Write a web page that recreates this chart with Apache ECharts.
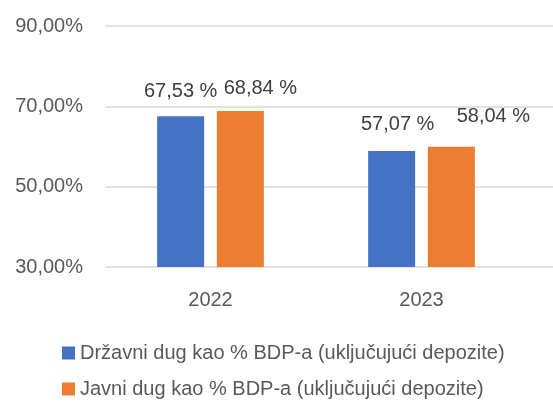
<!DOCTYPE html>
<html>
<head>
<meta charset="utf-8">
<script src="https://cdn.jsdelivr.net/npm/echarts@6/dist/echarts.min.js"></script>
<style>html,body{margin:0;padding:0;background:#fff}#c{width:553px;height:410px}</style>
</head>
<body>
<div id="c"></div>
<script>
const categories = ['2022', '2023'];
const seriesNames = ['Državni dug kao % BDP-a (uključujući depozite)', 'Javni dug kao % BDP-a (uključujući depozite)'];
const drzavniValues = [67.53, 58.9];
const javniValues = [68.84, 59.95];
const drzavniLabels = ['67,53 %', '57,07 %'];
const javniLabels = ['68,84 %', '58,04 %'];
const yTicks = { min: 30, max: 90, interval: 20 };

const FONT = 'Liberation Sans';
const chart = echarts.init(document.getElementById('c'), null, { renderer: 'canvas' });

// manual label placements from the original chart (styling only)
const drzavniLabelShift = [[0, -1], [6, -2]];
const javniLabelShift = [[20, 1], [42, -6]];

function buildData(values, shifts) {
  return values.map((v, i) => ({ value: v, label: { offset: shifts[i] } }));
}

function labelCfg(texts) {
  return {
    show: true, position: 'top', distance: 14,
    fontFamily: FONT, fontSize: 20, color: '#404040',
    formatter: p => texts[p.dataIndex]
  };
}

chart.setOption({
  animation: false,
  textStyle: { fontFamily: FONT },
  grid: [
    { left: 105, right: 0, top: 26, bottom: 143 },
    { left: 105, width: 422, top: 26, bottom: 143 }
  ],
  xAxis: [
    { type: 'value', gridIndex: 0, min: 0, max: 1, show: false },
    {
      type: 'category', gridIndex: 1, data: categories,
      axisLine: { show: false }, axisTick: { show: false },
      axisLabel: { fontFamily: FONT, fontSize: 20, color: '#595959', margin: 23 }
    }
  ],
  yAxis: [
    {
      type: 'value', gridIndex: 0, min: yTicks.min, max: yTicks.max, interval: yTicks.interval,
      axisLine: { show: false }, axisTick: { show: false },
      splitLine: { lineStyle: { color: '#d9d9d9', width: 1.5 } },
      axisLabel: {
        fontFamily: FONT, fontSize: 20, color: '#595959', margin: 22,
        formatter: v => v.toFixed(2).replace('.', ',') + '%'
      }
    },
    {
      type: 'value', gridIndex: 1, min: yTicks.min, max: yTicks.max, interval: yTicks.interval,
      show: false, splitLine: { show: false }
    }
  ],
  legend: {
    orient: 'vertical', left: 57, top: 338, itemGap: 16,
    itemWidth: 13, itemHeight: 13, icon: 'rect',
    textStyle: { fontFamily: FONT, fontSize: 20, color: '#595959', lineHeight: 20 },
    data: seriesNames
  },
  series: [
    {
      name: seriesNames[0], type: 'bar', xAxisIndex: 1, yAxisIndex: 1,
      data: buildData(drzavniValues, drzavniLabelShift), barWidth: 47, barGap: '27%',
      itemStyle: { color: '#4472C4' }, label: labelCfg(drzavniLabels)
    },
    {
      name: seriesNames[1], type: 'bar', xAxisIndex: 1, yAxisIndex: 1,
      data: buildData(javniValues, javniLabelShift), barWidth: 47, barGap: '27%',
      itemStyle: { color: '#ED7D31' }, label: labelCfg(javniLabels)
    }
  ]
});
</script>
</body>
</html>
